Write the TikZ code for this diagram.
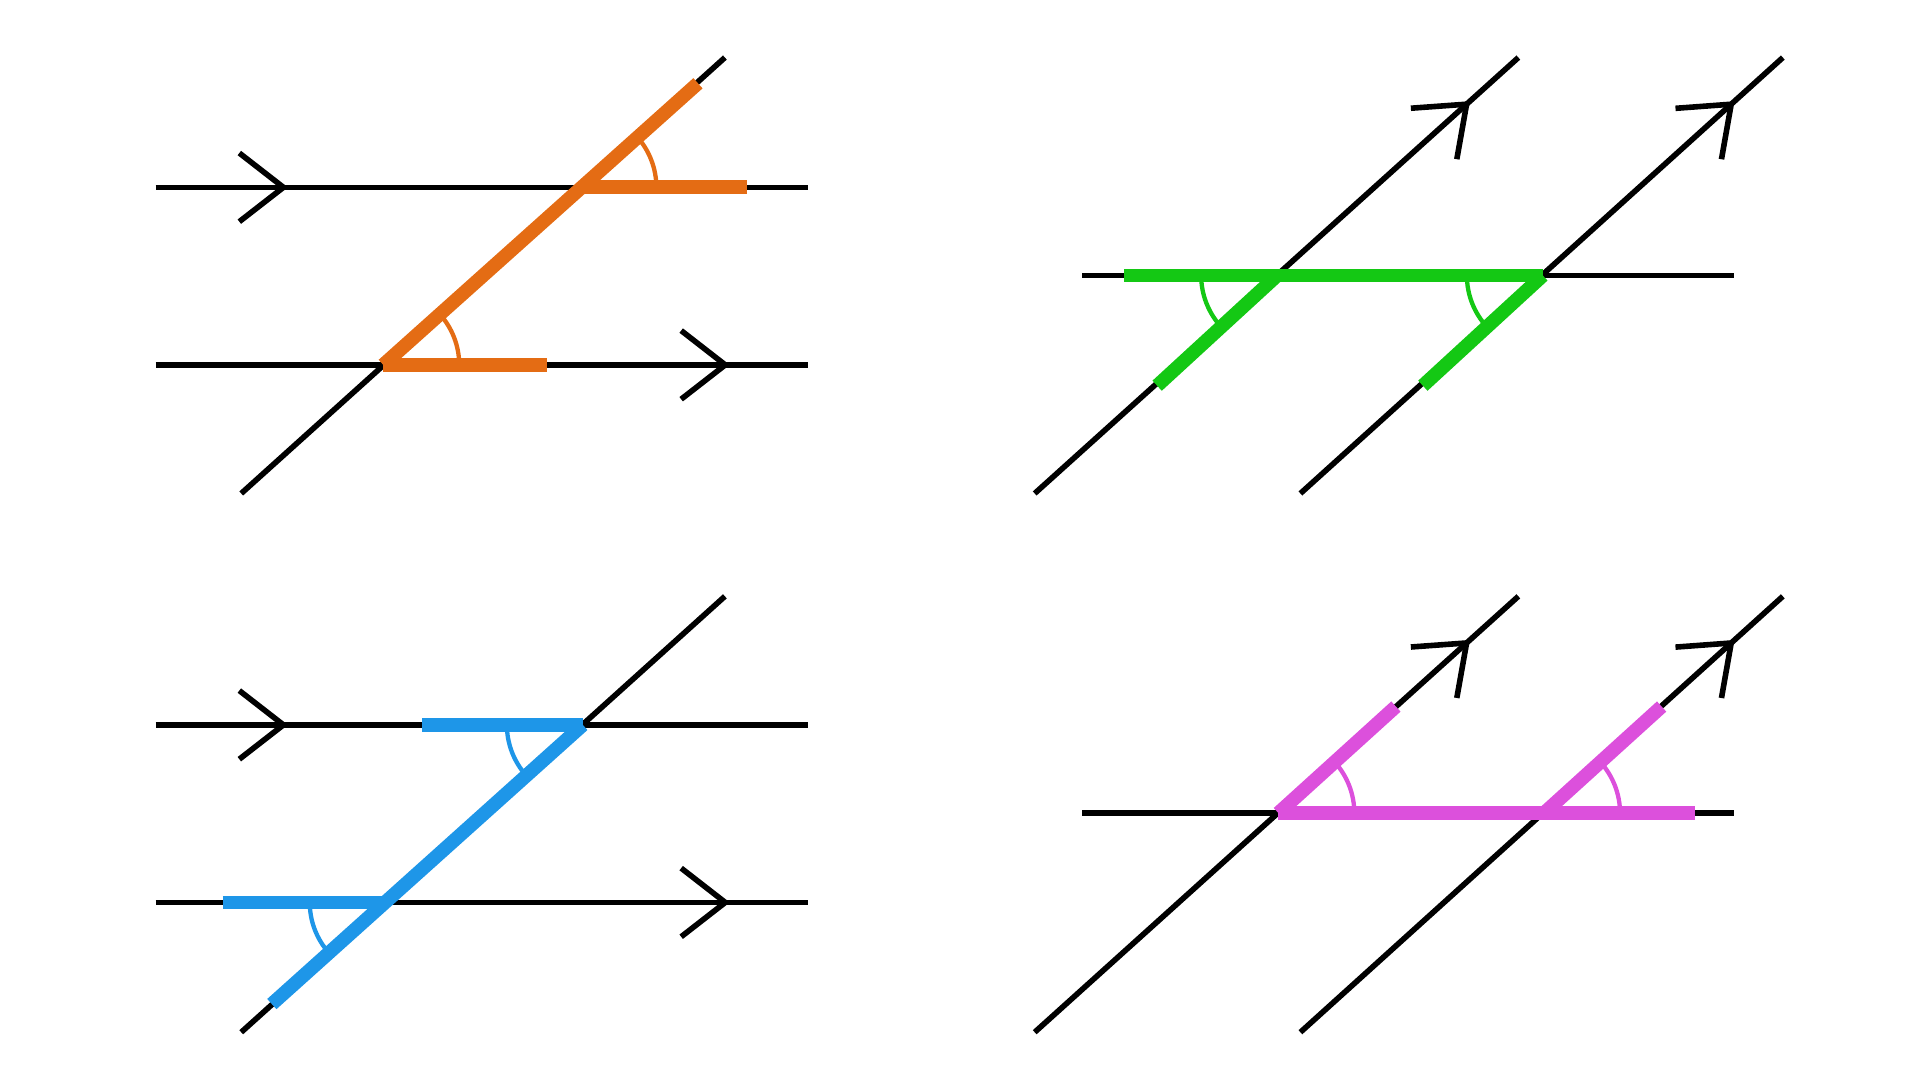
\documentclass[tikz,border=0pt]{standalone}
\usetikzlibrary{arrows.meta,decorations.markings,angles,calc}
\definecolor{AngOrange}{RGB}{228,108,20}
\definecolor{AngGreen}{RGB}{20,200,20}
\definecolor{AngBlue}{RGB}{30,150,232}
\definecolor{AngMagenta}{RGB}{220,80,220}
\tikzset{
  plain line/.style={line width=1.3pt,black},
  hl/.style={line width=3.2pt,#1},
  ang/.style={draw=#1,line width=1pt,angle radius=0.62cm},
  mid arrow/.style={
    postaction=decorate,
    decoration={markings,
      mark=at position #1 with {\arrow{Straight Barb[length=3.6mm,width=5.6mm,line width=1.3pt]}}}
  },
}
\begin{document}
\begin{tikzpicture}[x=0.01cm,y=-0.01cm]
  \useasboundingbox (0,0) rectangle (1568,882);
  % corresponding angles
  \begin{scope}
    \coordinate (a1) at (474,153);
    \coordinate (a2) at (313,298);
    \coordinate (aR1) at (610,153);
    \coordinate (aR2) at (447,298);
    \coordinate (aU) at (570,68);
    \draw[plain line,mid arrow=0.203] (127,153) -- (660,153);
    \draw[plain line,mid arrow=0.88] (127,298) -- (660,298);
    \draw[plain line] (197,403) -- (592,47);
    \draw[hl=AngOrange] (a2) -- (aU);
    \draw[hl=AngOrange] (a1) -- (aR1);
    \draw[hl=AngOrange] (a2) -- (aR2);
    \pic[ang=AngOrange] {angle=aR1--a1--aU};
    \pic[ang=AngOrange] {angle=aR2--a2--a1};
  \end{scope}
  % co-interior along the transversal pair
  \begin{scope}
    \coordinate (b1) at (1043,225);
    \coordinate (b2) at (1260,225);
    \coordinate (bL) at (918,225);
    \coordinate (bD1) at (945,315);
    \coordinate (bD2) at (1162,315);
    \draw[plain line] (884,225) -- (1416,225);
    \draw[plain line,mid arrow=0.9] (845,403) -- (1240,47);
    \draw[plain line,mid arrow=0.9] (1062,403) -- (1456,47);
    \draw[hl=AngGreen] (bL) -- (b2);
    \draw[hl=AngGreen] (b1) -- (bD1);
    \draw[hl=AngGreen] (b2) -- (bD2);
    \pic[ang=AngGreen] {angle=bL--b1--bD1};
    \pic[ang=AngGreen] {angle=b1--b2--bD2};
  \end{scope}
  % corresponding angles, left side
  \begin{scope}
    \coordinate (c1) at (476,592);
    \coordinate (c2) at (315,737);
    \coordinate (cL1) at (345,592);
    \coordinate (cL2) at (182,737);
    \coordinate (cD) at (222,820);
    \draw[plain line,mid arrow=0.203] (127,592) -- (660,592);
    \draw[plain line,mid arrow=0.88] (127,737) -- (660,737);
    \draw[plain line] (197,843) -- (592,487);
    \draw[hl=AngBlue] (cD) -- (c1);
    \draw[hl=AngBlue] (cL1) -- (c1);
    \draw[hl=AngBlue] (cL2) -- (c2);
    \pic[ang=AngBlue] {angle=cL1--c1--c2};
    \pic[ang=AngBlue] {angle=cL2--c2--cD};
  \end{scope}
  % corresponding angles, right side
  \begin{scope}
    \coordinate (d1) at (1044,664);
    \coordinate (d2) at (1261,664);
    \coordinate (dR) at (1384,664);
    \coordinate (dU1) at (1140,577);
    \coordinate (dU2) at (1357,577);
    \draw[plain line] (884,664) -- (1416,664);
    \draw[plain line,mid arrow=0.9] (845,843) -- (1240,487);
    \draw[plain line,mid arrow=0.9] (1062,843) -- (1456,487);
    \draw[hl=AngMagenta] (d1) -- (dR);
    \draw[hl=AngMagenta] (d1) -- (dU1);
    \draw[hl=AngMagenta] (d2) -- (dU2);
    \pic[ang=AngMagenta] {angle=d2--d1--dU1};
    \pic[ang=AngMagenta] {angle=dR--d2--dU2};
  \end{scope}
\end{tikzpicture}
\end{document}
